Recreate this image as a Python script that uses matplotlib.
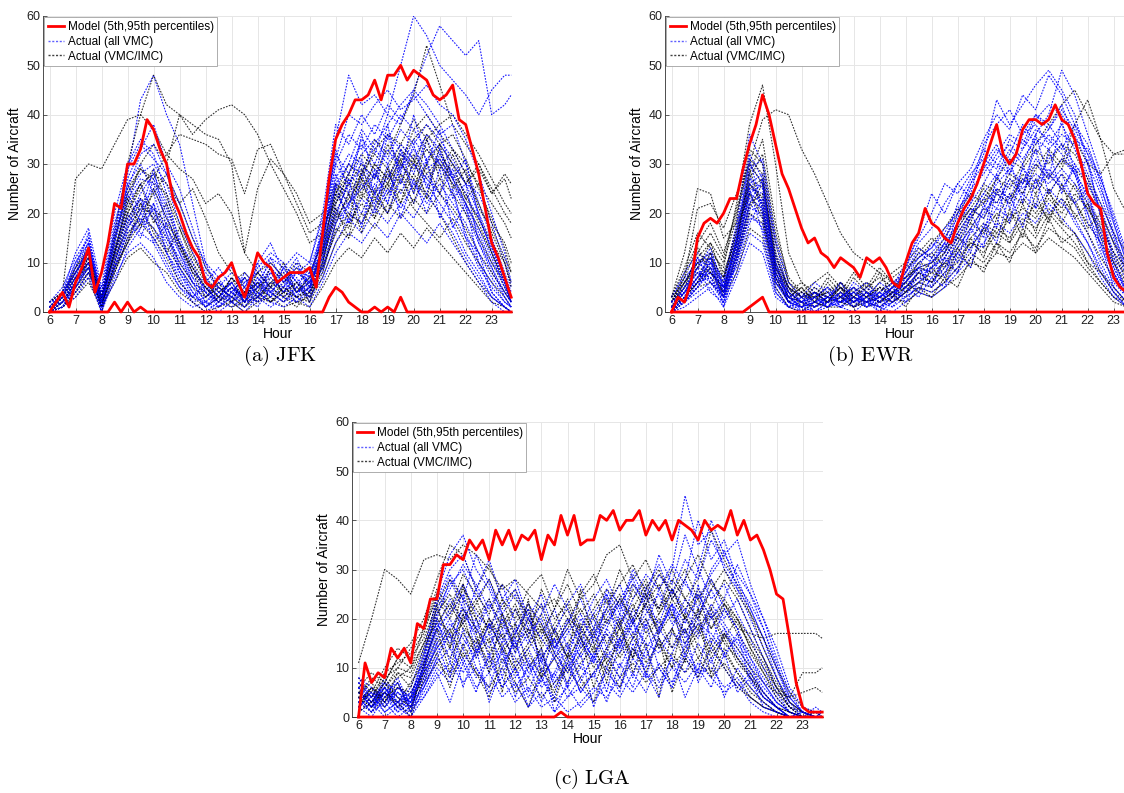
import numpy as np
import matplotlib.pyplot as plt
from matplotlib.lines import Line2D

plt.rcParams['font.family'] = ['Liberation Sans', 'DejaVu Sans']
plt.rcParams['mathtext.fontset'] = 'cm'

# time grids: model envelope every 15 min, actual days sampled every 30 min
T_MODEL = np.arange(6, 23.76, 0.25)
T_ACTUAL = np.r_[np.arange(6, 23.6, 0.5), 23.75]

# -----------------------
# JFK
# -----------------------
JFK_UPPER = [0, 2, 4, 1, 6, 9, 13, 4, 8, 14, 22, 21,
             30, 30, 33, 39, 37, 33, 30, 23, 20, 16, 13, 11,
             6, 5, 7, 8, 10, 6, 3, 7, 12, 10, 9, 6,
             7, 8, 8, 8, 9, 5, 16, 27, 35, 38, 40, 43,
             43, 44, 47, 43, 48, 48, 50, 47, 49, 48, 47, 44,
             43, 44, 46, 39, 38, 33, 28, 21, 14, 11, 7, 3]
JFK_LOWER = [0, 0, 0, 0, 0, 0, 0, 0, 0, 0, 2, 0,
             2, 0, 1, 0, 0, 0, 0, 0, 0, 0, 0, 0,
             0, 0, 0, 0, 0, 0, 0, 0, 0, 0, 0, 0,
             0, 0, 0, 0, 0, 0, 0, 3, 5, 4, 2, 1,
             0, 0, 1, 0, 1, 0, 3, 0, 0, 0, 0, 0,
             0, 0, 0, 0, 0, 0, 0, 0, 0, 0, 0, 0]
JFK_VMC = [
    [0, 3, 9, 14, 3, 16, 28, 43, 48, 40, 34, 22, 10, 4, 6, 2, 5, 8, 4, 6, 8, 14, 30, 36, 33, 38, 35, 40, 37, 33, 30, 26, 20, 14, 8, 4, 2],
    [1, 2, 6, 11, 1, 12, 22, 26, 20, 12, 6, 3, 5, 2, 7, 4, 9, 12, 10, 6, 3, 12, 35, 48, 42, 44, 40, 38, 45, 42, 38, 33, 28, 20, 12, 5, 3],
    [0, 1, 4, 8, 2, 8, 15, 18, 22, 16, 10, 6, 2, 4, 2, 0, 3, 6, 5, 8, 6, 10, 22, 28, 35, 32, 40, 50, 60, 56, 50, 47, 44, 40, 45, 48, 48],
    [2, 4, 12, 17, 5, 20, 30, 35, 32, 24, 14, 8, 6, 9, 5, 3, 7, 4, 2, 5, 9, 16, 25, 30, 28, 34, 38, 42, 45, 52, 58, 55, 52, 55, 40, 42, 44],
    [0, 2, 7, 10, 0, 10, 18, 24, 28, 22, 15, 9, 4, 1, 3, 5, 2, 4, 7, 3, 5, 8, 18, 24, 20, 26, 22, 30, 26, 24, 32, 28, 22, 16, 10, 6, 2],
    [1, 3, 8, 13, 2, 15, 26, 30, 24, 16, 8, 4, 1, 3, 6, 2, 10, 14, 8, 4, 6, 18, 32, 28, 34, 30, 36, 33, 28, 35, 30, 24, 16, 10, 4, 1, 0],
    [0, 1, 5, 9, 3, 9, 14, 20, 17, 12, 7, 2, 0, 2, 1, 3, 1, 5, 3, 2, 4, 9, 16, 22, 26, 22, 28, 24, 30, 26, 22, 18, 12, 8, 3, 1, 0],
    [2, 5, 11, 15, 4, 18, 27, 33, 38, 30, 25, 17, 9, 6, 4, 7, 3, 9, 6, 8, 10, 20, 38, 34, 40, 36, 42, 39, 44, 40, 36, 38, 30, 22, 15, 8, 4],
    [0, 2, 6, 12, 1, 13, 20, 16, 14, 9, 5, 2, 3, 5, 8, 6, 4, 2, 4, 7, 2, 10, 24, 20, 18, 24, 20, 27, 22, 28, 24, 20, 15, 9, 5, 2, 1],
    [1, 4, 10, 14, 3, 11, 24, 28, 30, 26, 18, 12, 7, 3, 5, 2, 6, 10, 7, 5, 7, 15, 27, 32, 30, 27, 33, 29, 35, 31, 34, 30, 26, 20, 14, 6, 3],
    [0, 1, 3, 7, 0, 7, 12, 14, 11, 6, 3, 1, 2, 0, 2, 1, 4, 2, 1, 3, 1, 6, 12, 16, 14, 18, 15, 20, 17, 14, 18, 14, 10, 6, 2, 0, 0],
    [1, 3, 9, 16, 2, 17, 29, 34, 31, 28, 20, 13, 8, 5, 3, 6, 8, 5, 9, 6, 4, 17, 30, 26, 32, 35, 31, 37, 34, 38, 35, 31, 26, 24, 18, 10, 5],
    [0, 2, 7, 11, 2, 12, 19, 23, 19, 14, 9, 4, 1, 4, 2, 4, 6, 3, 5, 2, 5, 13, 21, 18, 23, 20, 25, 21, 26, 22, 26, 22, 18, 12, 7, 3, 1],
    [2, 3, 8, 12, 1, 14, 23, 27, 26, 20, 12, 7, 5, 2, 4, 3, 2, 7, 4, 8, 6, 11, 26, 30, 37, 33, 30, 34, 31, 36, 33, 27, 22, 17, 11, 5, 2],
    [0, 1, 5, 10, 3, 10, 17, 21, 25, 19, 13, 7, 3, 6, 4, 1, 5, 9, 6, 3, 8, 12, 20, 26, 29, 24, 27, 32, 30, 27, 24, 29, 24, 19, 13, 7, 3],
    [1, 2, 6, 9, 0, 9, 16, 19, 15, 10, 5, 3, 2, 1, 3, 2, 3, 1, 3, 5, 3, 7, 14, 19, 16, 21, 18, 22, 19, 24, 20, 16, 11, 7, 3, 1, 0],
    [0, 3, 10, 15, 4, 16, 25, 32, 34, 28, 22, 15, 10, 7, 9, 5, 8, 11, 9, 12, 10, 19, 31, 40, 38, 42, 45, 41, 43, 46, 42, 40, 35, 28, 20, 12, 6],
    [1, 2, 4, 8, 1, 6, 13, 17, 21, 15, 11, 6, 4, 2, 5, 3, 5, 4, 2, 4, 5, 9, 18, 22, 25, 28, 24, 29, 33, 29, 31, 27, 21, 15, 9, 4, 2],
    [0, 2, 5, 9, 2, 11, 19, 15, 22, 12, 8, 3, 6, 1, 4, 7, 3, 8, 5, 10, 4, 13, 26, 18, 28, 21, 30, 19, 27, 20, 29, 17, 22, 10, 6, 2, 1],
    [1, 4, 8, 13, 3, 14, 26, 20, 29, 17, 12, 6, 2, 5, 3, 8, 5, 11, 6, 9, 7, 16, 33, 24, 36, 27, 38, 26, 34, 25, 33, 23, 26, 14, 9, 3, 1],
    [0, 1, 6, 10, 1, 9, 17, 23, 14, 18, 9, 5, 1, 3, 6, 2, 7, 3, 9, 4, 6, 11, 19, 27, 17, 29, 22, 33, 24, 31, 19, 25, 15, 12, 4, 1, 0],
    [2, 3, 7, 14, 2, 15, 24, 18, 27, 21, 14, 10, 4, 7, 2, 5, 10, 4, 7, 11, 5, 14, 28, 21, 31, 24, 36, 28, 40, 30, 37, 27, 31, 19, 13, 6, 2],
]
JFK_MIXED = [
    [1, 4, 27, 30, 29, 34, 39, 40, 37, 32, 29, 27, 22, 24, 20, 12, 8, 5, 7, 4, 6, 12, 20, 17, 24, 21, 26, 22, 28, 24, 20, 15, 10, 6, 3, 1, 0],
    [0, 3, 9, 12, 4, 16, 30, 40, 48, 42, 40, 36, 39, 41, 42, 40, 36, 30, 25, 20, 14, 16, 24, 28, 25, 30, 27, 33, 30, 36, 32, 28, 24, 18, 12, 6, 3],
    [0, 2, 7, 10, 2, 12, 22, 30, 34, 30, 40, 38, 36, 35, 30, 12, 25, 31, 28, 24, 18, 20, 26, 22, 28, 32, 29, 34, 31, 27, 30, 26, 22, 17, 12, 6, 2],
    [0, 2, 6, 9, 1, 10, 18, 22, 19, 15, 10, 6, 4, 2, 5, 3, 6, 4, 2, 5, 3, 10, 20, 26, 30, 27, 34, 30, 37, 40, 36, 33, 30, 26, 22, 18, 15],
    [1, 3, 8, 11, 2, 14, 25, 29, 26, 24, 18, 12, 6, 3, 2, 4, 2, 6, 8, 4, 7, 15, 26, 24, 28, 35, 32, 38, 44, 54, 46, 38, 34, 30, 25, 20, 18],
    [0, 1, 4, 7, 0, 8, 15, 20, 24, 28, 22, 15, 9, 5, 3, 1, 4, 2, 5, 3, 2, 7, 14, 18, 22, 19, 24, 28, 25, 30, 34, 30, 26, 29, 24, 28, 26],
    [0, 2, 5, 8, 2, 9, 14, 18, 15, 11, 6, 3, 1, 3, 1, 2, 3, 5, 3, 1, 4, 9, 16, 20, 18, 23, 20, 25, 21, 18, 15, 19, 14, 10, 6, 3, 1],
    [2, 4, 9, 13, 3, 12, 20, 25, 29, 23, 17, 11, 7, 4, 6, 8, 5, 3, 6, 9, 5, 12, 22, 28, 32, 29, 26, 31, 35, 38, 34, 36, 31, 25, 19, 13, 8],
    [0, 1, 3, 6, 1, 6, 11, 13, 10, 8, 4, 2, 0, 1, 2, 0, 2, 3, 1, 2, 1, 5, 10, 13, 11, 15, 12, 16, 13, 17, 14, 11, 8, 5, 2, 1, 0],
    [1, 3, 7, 10, 3, 11, 17, 21, 20, 17, 13, 8, 5, 2, 4, 2, 5, 7, 4, 6, 4, 11, 19, 23, 27, 24, 29, 26, 32, 28, 31, 27, 23, 19, 14, 10, 6],
    [0, 2, 6, 10, 2, 13, 21, 26, 28, 26, 22, 25, 19, 12, 8, 5, 3, 6, 4, 3, 5, 13, 24, 30, 27, 33, 36, 34, 39, 35, 38, 40, 36, 32, 27, 22, 20],
    [1, 2, 5, 9, 1, 9, 16, 19, 17, 13, 9, 5, 3, 5, 3, 1, 3, 2, 4, 2, 3, 8, 17, 15, 20, 17, 22, 19, 23, 20, 24, 21, 17, 12, 8, 4, 2],
    [0, 3, 8, 12, 3, 15, 24, 29, 27, 32, 36, 35, 34, 32, 31, 24, 33, 34, 28, 22, 16, 18, 22, 26, 23, 28, 25, 30, 27, 23, 27, 24, 20, 15, 10, 5, 2],
    [2, 4, 8, 12, 2, 12, 19, 23, 21, 18, 14, 9, 5, 3, 7, 4, 8, 10, 7, 10, 8, 14, 23, 27, 24, 30, 27, 32, 29, 33, 29, 33, 28, 22, 16, 10, 5],
    [0, 2, 6, 11, 3, 12, 23, 17, 25, 19, 14, 8, 3, 6, 2, 7, 4, 9, 3, 6, 2, 10, 21, 15, 27, 19, 29, 22, 31, 23, 34, 25, 29, 21, 17, 11, 8],
    [1, 3, 7, 9, 1, 10, 20, 26, 18, 22, 13, 9, 5, 2, 5, 3, 6, 2, 5, 3, 4, 9, 18, 24, 16, 25, 20, 28, 22, 30, 24, 32, 26, 30, 24, 27, 23],
    [0, 1, 4, 8, 2, 8, 14, 22, 16, 12, 17, 10, 6, 3, 7, 2, 8, 5, 10, 4, 7, 12, 25, 19, 29, 23, 26, 31, 24, 35, 27, 30, 23, 26, 18, 14, 10],
]

# -----------------------
# EWR
# -----------------------
EWR_UPPER = [0, 3, 2, 6, 15, 18, 19, 18, 20, 23, 23, 29,
             34, 38, 44, 40, 34, 28, 25, 21, 17, 14, 15, 12,
             11, 9, 11, 10, 9, 7, 11, 10, 11, 9, 6, 5,
             10, 14, 16, 21, 18, 17, 15, 14, 18, 21, 23, 26,
             30, 34, 38, 32, 30, 32, 37, 39, 39, 38, 39, 42,
             39, 38, 35, 30, 24, 22, 21, 12, 7, 5, 4, 3]
EWR_LOWER = [0, 0, 0, 0, 0, 0, 0, 0, 0, 0, 0, 0,
             1, 2, 3, 0, 0, 0, 0, 0, 0, 0, 0, 0,
             0, 0, 0, 0, 0, 0, 0, 0, 0, 0, 0, 0,
             0, 0, 0, 0, 0, 0, 0, 0, 0, 0, 0, 0,
             0, 0, 0, 0, 0, 0, 0, 0, 0, 0, 0, 0,
             0, 0, 0, 0, 0, 0, 0, 0, 0, 0, 0, 0]
EWR_VMC = [
    [2, 6, 10, 8, 5, 14, 28, 20, 6, 2, 4, 1, 3, 5, 2, 4, 1, 3, 8, 12, 10, 14, 18, 22, 30, 34, 28, 36, 40, 38, 34, 28, 20, 12, 6, 3, 1],
    [1, 4, 7, 12, 6, 18, 36, 30, 12, 4, 2, 3, 1, 2, 4, 2, 3, 5, 6, 9, 14, 12, 20, 26, 32, 43, 38, 42, 46, 49, 45, 40, 30, 20, 10, 4, 2],
    [0, 3, 5, 9, 3, 12, 24, 22, 8, 3, 1, 2, 4, 1, 3, 5, 2, 4, 5, 7, 9, 11, 15, 20, 24, 28, 33, 30, 36, 40, 49, 44, 36, 28, 18, 10, 5],
    [3, 8, 12, 10, 7, 16, 30, 26, 10, 5, 3, 4, 2, 6, 3, 2, 5, 3, 9, 14, 17, 22, 26, 23, 29, 33, 30, 35, 32, 36, 33, 38, 34, 26, 16, 8, 4],
    [1, 2, 6, 7, 2, 10, 20, 17, 5, 1, 0, 2, 1, 3, 1, 2, 0, 2, 4, 6, 5, 8, 12, 16, 20, 24, 22, 27, 25, 29, 26, 22, 16, 10, 5, 2, 0],
    [0, 4, 9, 13, 5, 15, 26, 28, 14, 4, 2, 5, 3, 2, 6, 4, 3, 6, 7, 11, 13, 16, 21, 24, 34, 38, 41, 36, 38, 34, 38, 33, 27, 20, 12, 6, 3],
    [2, 5, 8, 6, 4, 11, 22, 19, 7, 2, 3, 1, 2, 4, 2, 3, 4, 2, 5, 8, 7, 10, 14, 19, 23, 21, 26, 24, 30, 27, 31, 28, 24, 17, 9, 4, 2],
    [1, 3, 6, 10, 4, 13, 25, 24, 9, 3, 1, 3, 5, 3, 1, 4, 2, 5, 10, 15, 20, 26, 24, 28, 31, 29, 35, 33, 39, 42, 40, 36, 30, 24, 15, 8, 3],
    [0, 2, 4, 6, 2, 8, 16, 14, 4, 1, 2, 0, 1, 2, 3, 1, 2, 1, 3, 5, 4, 6, 9, 13, 17, 21, 19, 24, 21, 25, 22, 19, 14, 8, 4, 1, 0],
    [2, 6, 11, 9, 6, 17, 32, 27, 11, 5, 2, 4, 3, 6, 2, 5, 3, 4, 6, 10, 12, 15, 19, 25, 28, 32, 36, 34, 40, 37, 41, 37, 32, 27, 20, 12, 6],
    [1, 3, 7, 8, 3, 12, 23, 21, 8, 2, 1, 2, 2, 1, 4, 2, 1, 3, 7, 9, 8, 12, 17, 21, 19, 25, 23, 29, 26, 31, 34, 30, 26, 21, 14, 7, 2],
    [0, 2, 5, 11, 5, 14, 27, 25, 10, 3, 4, 2, 3, 5, 3, 2, 4, 6, 8, 13, 11, 14, 22, 27, 33, 30, 28, 33, 37, 35, 32, 28, 22, 15, 8, 3, 1],
    [1, 4, 8, 7, 3, 10, 19, 18, 6, 2, 0, 1, 3, 2, 2, 3, 1, 2, 4, 7, 6, 9, 13, 17, 21, 26, 29, 26, 31, 28, 25, 29, 23, 16, 9, 4, 2],
    [3, 7, 10, 12, 5, 15, 29, 31, 15, 6, 3, 6, 4, 3, 5, 3, 6, 4, 9, 16, 24, 20, 26, 29, 35, 40, 37, 44, 41, 48, 44, 38, 32, 25, 18, 10, 5],
    [0, 1, 3, 5, 1, 7, 14, 12, 3, 1, 1, 0, 2, 1, 0, 2, 1, 0, 2, 4, 3, 5, 8, 11, 14, 18, 16, 20, 18, 22, 19, 16, 12, 7, 3, 1, 0],
    [1, 5, 9, 11, 4, 13, 26, 22, 8, 3, 2, 3, 1, 4, 2, 4, 2, 3, 6, 9, 10, 13, 18, 22, 26, 31, 34, 31, 35, 33, 36, 34, 28, 22, 16, 9, 4],
    [2, 4, 6, 9, 3, 11, 21, 20, 7, 2, 1, 2, 3, 2, 3, 1, 3, 5, 5, 8, 9, 11, 16, 20, 24, 22, 27, 25, 28, 26, 29, 26, 20, 14, 8, 3, 1],
    [0, 3, 7, 10, 4, 14, 24, 26, 9, 4, 2, 4, 2, 3, 4, 6, 3, 5, 8, 11, 13, 17, 20, 26, 30, 27, 32, 38, 34, 37, 42, 35, 33, 27, 19, 11, 5],
    [1, 5, 9, 4, 2, 12, 25, 16, 4, 1, 3, 0, 2, 4, 1, 3, 0, 4, 3, 9, 5, 11, 8, 17, 13, 25, 18, 30, 21, 33, 24, 30, 18, 14, 5, 2, 0],
    [0, 3, 11, 6, 3, 15, 31, 21, 6, 3, 1, 4, 1, 3, 5, 1, 4, 2, 7, 4, 11, 7, 16, 12, 22, 17, 31, 22, 36, 27, 39, 28, 31, 19, 11, 4, 1],
    [2, 4, 7, 11, 1, 10, 22, 27, 7, 4, 0, 3, 5, 1, 2, 4, 2, 5, 2, 6, 9, 14, 10, 20, 15, 28, 21, 26, 33, 24, 28, 22, 25, 13, 8, 3, 1],
    [1, 2, 5, 8, 5, 9, 18, 23, 10, 2, 2, 1, 3, 2, 4, 2, 3, 1, 5, 3, 7, 5, 12, 9, 18, 14, 24, 17, 27, 20, 23, 18, 14, 9, 4, 1, 0],
]
EWR_MIXED = [
    [2, 8, 14, 18, 12, 20, 30, 39, 41, 40, 33, 28, 22, 16, 12, 10, 8, 6, 5, 8, 10, 12, 16, 20, 22, 25, 23, 27, 24, 28, 25, 22, 18, 14, 10, 6, 3],
    [1, 5, 10, 12, 9, 22, 38, 46, 30, 12, 6, 4, 2, 3, 5, 3, 2, 4, 6, 9, 8, 10, 13, 17, 21, 19, 24, 22, 27, 24, 28, 25, 21, 16, 10, 5, 2],
    [3, 12, 25, 24, 15, 18, 26, 22, 8, 3, 2, 1, 3, 5, 2, 4, 3, 5, 7, 10, 12, 9, 14, 18, 16, 20, 18, 23, 20, 24, 21, 26, 22, 18, 12, 7, 3],
    [2, 7, 21, 22, 17, 24, 30, 26, 12, 5, 3, 4, 2, 6, 3, 2, 4, 6, 8, 12, 15, 13, 18, 21, 19, 24, 28, 26, 30, 27, 31, 29, 26, 20, 14, 8, 4],
    [1, 4, 9, 8, 5, 12, 24, 20, 7, 2, 1, 3, 4, 2, 4, 6, 3, 2, 4, 6, 5, 8, 10, 14, 12, 16, 14, 18, 15, 20, 17, 14, 10, 6, 3, 1, 0],
    [0, 3, 6, 10, 6, 16, 28, 35, 18, 6, 4, 2, 5, 3, 1, 3, 5, 3, 5, 8, 6, 11, 15, 19, 23, 27, 25, 30, 34, 38, 42, 45, 40, 35, 32, 33, 35],
    [1, 5, 8, 7, 4, 10, 20, 18, 6, 3, 5, 2, 1, 4, 2, 1, 2, 4, 3, 5, 4, 6, 9, 12, 10, 14, 12, 16, 13, 17, 15, 13, 9, 6, 3, 2, 1],
    [2, 6, 11, 14, 10, 19, 33, 30, 14, 6, 3, 5, 3, 2, 5, 3, 6, 8, 10, 13, 11, 15, 20, 24, 22, 27, 31, 29, 33, 30, 34, 32, 27, 22, 16, 12, 8],
    [0, 2, 5, 6, 3, 8, 17, 15, 5, 1, 0, 2, 1, 1, 3, 2, 1, 3, 2, 4, 3, 5, 7, 10, 9, 12, 11, 14, 12, 15, 13, 11, 8, 5, 2, 1, 0],
    [3, 9, 16, 13, 8, 15, 27, 32, 16, 7, 4, 6, 8, 5, 3, 6, 4, 7, 9, 11, 14, 17, 21, 18, 26, 24, 22, 28, 25, 32, 29, 35, 30, 28, 32, 32, 32],
    [1, 4, 7, 9, 4, 11, 22, 24, 9, 3, 2, 1, 2, 3, 2, 4, 2, 3, 5, 7, 6, 9, 12, 15, 18, 16, 20, 18, 22, 19, 23, 20, 16, 11, 7, 4, 2],
    [2, 5, 12, 16, 11, 21, 31, 28, 11, 5, 3, 3, 4, 6, 4, 3, 5, 4, 6, 10, 9, 12, 17, 21, 25, 22, 27, 24, 29, 33, 30, 38, 43, 35, 25, 20, 22],
    [0, 3, 6, 8, 5, 13, 25, 27, 10, 4, 2, 4, 3, 2, 1, 2, 3, 2, 4, 6, 8, 7, 11, 14, 13, 17, 15, 19, 17, 21, 18, 16, 12, 8, 5, 2, 1],
    [1, 6, 10, 11, 7, 14, 26, 23, 9, 4, 6, 3, 2, 5, 3, 5, 7, 5, 7, 9, 10, 13, 15, 13, 17, 15, 19, 21, 19, 23, 20, 24, 21, 17, 12, 9, 6],
    [2, 7, 13, 8, 4, 14, 29, 21, 8, 3, 5, 2, 6, 3, 7, 4, 8, 3, 6, 4, 9, 6, 13, 9, 17, 12, 21, 15, 24, 18, 26, 19, 22, 15, 11, 7, 4],
    [1, 3, 6, 12, 3, 11, 21, 26, 9, 5, 1, 4, 2, 5, 1, 3, 2, 4, 1, 5, 3, 7, 5, 11, 8, 14, 10, 17, 12, 19, 14, 16, 10, 8, 4, 2, 1],
    [3, 6, 9, 14, 7, 17, 24, 19, 7, 2, 4, 3, 7, 4, 8, 5, 9, 6, 4, 8, 6, 10, 8, 15, 11, 19, 14, 22, 16, 25, 18, 23, 17, 20, 14, 10, 7],
]

# -----------------------
# LGA
# -----------------------
LGA_UPPER = [0, 11, 7, 9, 8, 14, 12, 14, 11, 19, 18, 24,
             24, 31, 31, 33, 32, 36, 34, 36, 32, 38, 35, 38,
             34, 37, 36, 38, 32, 37, 35, 41, 37, 41, 35, 36,
             36, 41, 40, 42, 38, 40, 40, 42, 37, 40, 38, 40,
             36, 40, 39, 38, 36, 40, 38, 39, 38, 42, 37, 40,
             36, 37, 34, 30, 25, 24, 16, 7, 2, 1, 1, 1]
LGA_LOWER = [0, 0, 0, 0, 0, 0, 0, 0, 0, 0, 0, 0,
             0, 0, 0, 0, 0, 0, 0, 0, 0, 0, 0, 0,
             0, 0, 0, 0, 0, 0, 0, 1, 0, 0, 0, 0,
             0, 0, 0, 0, 0, 0, 0, 0, 0, 0, 0, 0,
             0, 0, 0, 0, 0, 0, 0, 0, 0, 0, 0, 0,
             0, 0, 0, 0, 0, 0, 0, 0, 0, 0, 0, 0]
LGA_VMC = [
    [7, 3, 6, 2, 4, 12, 25, 33, 37, 30, 26, 20, 15, 18, 12, 8, 14, 10, 16, 20, 24, 19, 26, 22, 30, 45, 35, 38, 30, 26, 20, 14, 8, 3, 1, 0, 0],
    [5, 2, 8, 4, 1, 10, 20, 28, 22, 18, 24, 16, 12, 8, 14, 6, 10, 16, 12, 18, 14, 22, 18, 26, 20, 28, 40, 32, 36, 28, 22, 16, 10, 4, 1, 0, 0],
    [3, 6, 2, 5, 3, 8, 16, 20, 14, 20, 12, 18, 10, 14, 8, 12, 6, 10, 8, 14, 10, 16, 12, 18, 14, 20, 16, 22, 18, 14, 10, 6, 3, 1, 0, 0, 1],
    [8, 4, 7, 3, 6, 14, 24, 30, 33, 26, 32, 24, 28, 20, 16, 22, 14, 18, 24, 28, 22, 30, 26, 31, 24, 28, 22, 30, 34, 26, 22, 16, 8, 2, 0, 1, 0],
    [2, 0, 4, 1, 3, 6, 12, 9, 14, 8, 12, 6, 10, 4, 8, 3, 6, 2, 5, 9, 6, 12, 8, 10, 6, 12, 8, 14, 10, 6, 9, 4, 2, 0, 0, 0, 0],
    [6, 3, 5, 7, 2, 11, 18, 24, 19, 26, 20, 15, 22, 16, 11, 18, 12, 20, 16, 22, 27, 20, 25, 18, 23, 17, 21, 26, 20, 24, 18, 12, 6, 2, 1, 0, 0],
    [4, 1, 6, 2, 5, 9, 14, 18, 22, 16, 10, 14, 8, 12, 6, 9, 4, 8, 12, 10, 16, 12, 20, 14, 18, 24, 20, 28, 22, 18, 12, 8, 4, 1, 0, 2, 1],
    [7, 5, 3, 6, 4, 13, 22, 27, 30, 24, 28, 21, 17, 23, 19, 13, 20, 15, 21, 25, 19, 27, 23, 29, 25, 32, 28, 36, 31, 27, 23, 18, 11, 4, 1, 0, 0],
    [1, 3, 0, 2, 1, 5, 10, 7, 12, 6, 9, 4, 7, 2, 5, 1, 4, 6, 3, 7, 4, 9, 5, 11, 7, 13, 9, 10, 6, 8, 4, 2, 1, 0, 0, 0, 0],
    [5, 2, 7, 5, 3, 10, 19, 15, 21, 17, 23, 19, 14, 20, 25, 17, 23, 27, 20, 14, 21, 16, 23, 19, 26, 21, 30, 24, 27, 21, 16, 10, 5, 1, 0, 0, 0],
    [3, 5, 4, 8, 2, 7, 13, 17, 11, 15, 9, 13, 6, 10, 13, 7, 11, 5, 9, 13, 8, 14, 10, 16, 12, 9, 15, 11, 17, 13, 9, 5, 2, 0, 1, 0, 0],
    [6, 2, 5, 3, 4, 12, 21, 26, 31, 27, 22, 27, 19, 15, 21, 27, 22, 16, 12, 18, 24, 28, 22, 17, 23, 19, 25, 20, 24, 31, 25, 18, 10, 3, 0, 0, 0],
    [2, 4, 1, 3, 0, 6, 11, 14, 9, 13, 17, 11, 15, 9, 12, 16, 10, 14, 18, 12, 16, 20, 14, 18, 22, 16, 20, 14, 18, 12, 8, 4, 2, 0, 0, 0, 1],
    [8, 6, 3, 5, 2, 9, 17, 22, 27, 21, 18, 23, 26, 20, 16, 12, 17, 21, 15, 19, 23, 17, 21, 25, 19, 22, 17, 23, 19, 15, 11, 7, 3, 1, 0, 0, 0],
    [4, 1, 3, 0, 2, 4, 8, 11, 7, 10, 5, 8, 3, 6, 2, 4, 1, 3, 6, 4, 8, 5, 9, 6, 10, 7, 11, 8, 5, 7, 3, 1, 0, 0, 0, 0, 0],
    [5, 3, 6, 4, 3, 11, 23, 29, 24, 33, 27, 21, 25, 18, 23, 14, 19, 24, 18, 26, 21, 29, 24, 33, 27, 37, 30, 40, 33, 29, 25, 20, 14, 6, 2, 1, 0],
    [3, 2, 5, 1, 4, 8, 15, 19, 16, 12, 19, 14, 18, 11, 7, 13, 9, 15, 11, 17, 13, 19, 15, 13, 17, 15, 19, 17, 13, 16, 12, 7, 3, 1, 0, 0, 0],
    [6, 4, 2, 6, 3, 10, 18, 21, 25, 18, 14, 20, 13, 17, 20, 14, 18, 12, 17, 22, 18, 24, 29, 26, 31, 27, 24, 29, 33, 36, 27, 20, 12, 5, 1, 0, 0],
    [3, 1, 5, 2, 0, 4, 9, 3, 11, 5, 13, 6, 10, 2, 8, 4, 12, 5, 9, 3, 11, 6, 14, 7, 12, 4, 10, 6, 13, 5, 8, 2, 1, 0, 0, 0, 0],
    [6, 2, 4, 7, 1, 7, 15, 8, 18, 10, 6, 14, 4, 11, 3, 9, 15, 7, 13, 5, 16, 8, 19, 10, 6, 15, 9, 21, 12, 17, 7, 4, 2, 0, 1, 0, 0],
    [2, 5, 1, 3, 2, 6, 12, 17, 6, 14, 3, 10, 16, 5, 12, 1, 7, 13, 2, 10, 5, 15, 9, 4, 13, 18, 7, 12, 4, 10, 6, 3, 1, 0, 0, 0, 0],
    [7, 4, 6, 3, 5, 10, 20, 11, 24, 13, 19, 8, 17, 22, 9, 16, 6, 18, 11, 25, 14, 20, 8, 17, 23, 12, 27, 15, 22, 18, 10, 5, 2, 0, 0, 0, 0],
]
LGA_MIXED = [
    [11, 20, 30, 28, 25, 32, 33, 32, 35, 33, 30, 26, 28, 25, 22, 24, 20, 18, 22, 26, 23, 27, 24, 29, 26, 22, 25, 20, 23, 18, 17, 16, 17, 17, 17, 17, 16],
    [5, 3, 7, 12, 15, 20, 28, 35, 33, 26, 31, 24, 20, 26, 29, 22, 30, 24, 27, 33, 35, 28, 32, 26, 30, 24, 28, 38, 32, 27, 21, 14, 8, 3, 1, 0, 0],
    [4, 8, 6, 10, 14, 18, 24, 20, 26, 22, 18, 24, 16, 20, 14, 18, 22, 16, 20, 24, 18, 26, 22, 18, 24, 20, 26, 22, 28, 24, 18, 12, 6, 2, 0, 0, 0],
    [6, 2, 5, 8, 10, 15, 22, 16, 19, 14, 20, 13, 17, 22, 15, 19, 24, 18, 14, 20, 16, 22, 27, 21, 25, 30, 24, 28, 23, 20, 14, 10, 6, 4, 9, 9, 10],
    [3, 5, 2, 6, 4, 9, 14, 18, 12, 16, 11, 15, 9, 13, 8, 12, 7, 11, 14, 9, 13, 17, 11, 15, 10, 14, 18, 12, 16, 11, 8, 5, 2, 1, 0, 0, 0],
    [7, 4, 9, 11, 13, 17, 25, 21, 27, 20, 24, 18, 22, 16, 26, 20, 23, 17, 21, 15, 19, 23, 17, 21, 26, 20, 24, 18, 22, 17, 13, 9, 5, 2, 1, 0, 0],
    [2, 6, 4, 3, 7, 11, 18, 14, 20, 24, 17, 21, 14, 18, 12, 16, 20, 14, 18, 22, 30, 24, 28, 22, 26, 20, 18, 22, 16, 20, 14, 9, 4, 1, 0, 0, 0],
    [5, 7, 3, 9, 6, 13, 21, 25, 19, 23, 28, 22, 26, 19, 23, 17, 12, 16, 10, 14, 18, 12, 16, 20, 14, 18, 12, 16, 13, 9, 6, 3, 1, 0, 0, 0, 0],
    [1, 3, 5, 2, 4, 7, 11, 8, 13, 9, 6, 10, 5, 8, 4, 7, 10, 6, 9, 12, 8, 11, 7, 10, 13, 9, 12, 8, 11, 7, 4, 2, 1, 0, 0, 0, 0],
    [8, 5, 10, 14, 12, 16, 23, 28, 24, 20, 15, 19, 23, 17, 21, 15, 19, 25, 29, 23, 27, 31, 25, 22, 28, 24, 20, 26, 30, 25, 21, 16, 10, 5, 2, 1, 0],
    [4, 2, 6, 9, 8, 14, 20, 17, 22, 18, 13, 17, 11, 15, 19, 13, 9, 13, 17, 11, 15, 19, 23, 17, 21, 15, 19, 13, 17, 14, 10, 7, 5, 4, 5, 6, 5],
    [6, 9, 7, 12, 10, 18, 26, 22, 29, 25, 21, 27, 24, 21, 17, 22, 27, 21, 25, 19, 24, 20, 26, 30, 24, 28, 33, 27, 24, 20, 16, 12, 7, 3, 1, 0, 0],
    [3, 1, 4, 6, 5, 10, 16, 12, 17, 13, 19, 14, 10, 14, 18, 12, 15, 19, 13, 17, 12, 16, 20, 14, 18, 13, 17, 21, 15, 12, 9, 5, 2, 0, 0, 1, 0],
    [5, 4, 8, 10, 9, 15, 19, 23, 18, 15, 20, 16, 19, 23, 18, 14, 18, 22, 17, 21, 25, 19, 23, 27, 21, 17, 22, 18, 23, 19, 15, 11, 6, 2, 0, 0, 0],
    [4, 2, 5, 3, 0, 8, 13, 6, 15, 9, 4, 12, 7, 2, 10, 5, 13, 8, 3, 11, 6, 14, 9, 16, 5, 12, 8, 15, 10, 6, 4, 2, 1, 0, 0, 0, 0],
    [2, 6, 3, 7, 1, 11, 18, 9, 21, 12, 16, 5, 19, 10, 14, 3, 11, 17, 6, 13, 20, 9, 15, 4, 18, 11, 22, 8, 14, 9, 5, 3, 1, 0, 0, 0, 0],
    [5, 3, 7, 4, 2, 9, 23, 14, 27, 17, 9, 21, 13, 24, 8, 18, 12, 26, 15, 7, 19, 12, 25, 16, 10, 21, 14, 9, 17, 12, 8, 4, 2, 1, 0, 0, 0],
]

HOUR_TICKS = list(range(6, 24))
COUNT_TICKS = [0, 10, 20, 30, 40, 50, 60]

BLUE = '#0000ff'
RED = '#ff0000'
DOTS = (0, (1.5, 1.2))


def draw_panel(ax, upper, lower, vmc, mixed):
    n = max(len(vmc), len(mixed))
    for k in range(n):
        if k < len(vmc):
            ax.plot(T_ACTUAL, vmc[k], color=BLUE, lw=0.8, ls=DOTS, alpha=0.9)
        if k < len(mixed):
            ax.plot(T_ACTUAL, mixed[k], color='black', lw=0.8, ls=DOTS, alpha=0.8)
    ax.plot(T_MODEL, upper, color=RED, lw=2.0, zorder=5, clip_on=False)
    ax.plot(T_MODEL, lower, color=RED, lw=2.0, zorder=5, clip_on=False)

    ax.set_xlim(5.75, 23.78)
    ax.set_ylim(0, 60)
    ax.set_xticks(HOUR_TICKS)
    ax.set_yticks(COUNT_TICKS)
    ax.grid(True, color='#e6e6e6', lw=0.7)
    ax.set_axisbelow(True)
    for s in ('top', 'right'):
        ax.spines[s].set_visible(False)
    for s in ('left', 'bottom'):
        ax.spines[s].set_color('#303030')
        ax.spines[s].set_linewidth(0.6)
    ax.tick_params(direction='in', length=3, width=0.5, labelsize=9, pad=2,
                   colors='#202020')
    ax.set_xlabel('Hour', fontsize=10, labelpad=0)
    ax.set_ylabel('Number of Aircraft', fontsize=10, labelpad=3)

    handles = [Line2D([], [], color=RED, lw=2.0),
               Line2D([], [], color='#6060ff', lw=1.0, ls=DOTS),
               Line2D([], [], color='#404040', lw=1.0, ls=DOTS)]
    labels = ['Model (5th,95th percentiles)', 'Actual (all VMC)', 'Actual (VMC/IMC)']
    leg = ax.legend(handles, labels, loc='upper left', fontsize=8.5,
                    fancybox=False, framealpha=1, edgecolor='#a0a0a0',
                    borderpad=0.3, labelspacing=0.25, handlelength=1.4,
                    handletextpad=0.3, borderaxespad=0.1)
    leg.get_frame().set_linewidth(0.6)
    leg.set_zorder(10)


W, H = 1124, 793
fig = plt.figure(figsize=(W / 100, H / 100), dpi=100)

ax_a = fig.add_axes([43 / W, 1 - 312 / H, 469 / W, 296 / H])
ax_b = fig.add_axes([665 / W, 1 - 312 / H, 469 / W, 296 / H])
ax_c = fig.add_axes([352 / W, 1 - 717 / H, 471 / W, 295 / H])

draw_panel(ax_a, JFK_UPPER, JFK_LOWER, JFK_VMC, JFK_MIXED)
draw_panel(ax_b, EWR_UPPER, EWR_LOWER, EWR_VMC, EWR_MIXED)
draw_panel(ax_c, LGA_UPPER, LGA_LOWER, LGA_VMC, LGA_MIXED)

fig.text(280 / W, 1 - 356 / H, r'$\mathrm{(a)\ JFK}$', ha='center', va='center', fontsize=15)
fig.text(870 / W, 1 - 356 / H, r'$\mathrm{(b)\ EWR}$', ha='center', va='center', fontsize=15)
fig.text(592 / W, 1 - 779 / H, r'$\mathrm{(c)\ LGA}$', ha='center', va='center', fontsize=15)

fig.savefig('out.png', dpi=100)
